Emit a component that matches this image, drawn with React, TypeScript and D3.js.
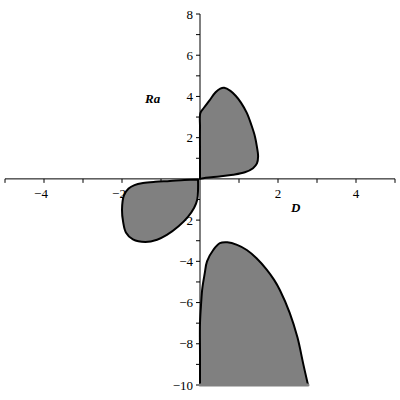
import React from "react";
import * as d3 from "d3";

// region outlines (D, Ra)
const upperLobe: [number, number][] = [
  [0, 0], [0, 1.2], [0, 2.5], [0.01, 3.2], [0.1, 3.45], [0.24, 3.8],
  [0.4, 4.2], [0.52, 4.38], [0.62, 4.42], [0.78, 4.27], [0.92, 4.02],
  [1.05, 3.7], [1.2, 3.2], [1.32, 2.6], [1.41, 2.05], [1.46, 1.55],
  [1.49, 1.1], [1.46, 0.75], [1.36, 0.52], [1.15, 0.32], [0.85, 0.2],
  [0.5, 0.12], [0.15, 0.05], [0, 0],
];

const leftLobe: [number, number][] = [
  [-0.05, -0.03], [-0.4, -0.05], [-0.77, -0.1], [-1.15, -0.14],
  [-1.46, -0.2], [-1.68, -0.3], [-1.83, -0.47], [-1.95, -0.8],
  [-2.0, -1.5], [-1.97, -2.1], [-1.9, -2.6], [-1.72, -2.94],
  [-1.4, -3.06], [-1.1, -2.95], [-0.85, -2.72], [-0.55, -2.3],
  [-0.31, -1.84], [-0.15, -1.4], [-0.07, -1.0], [-0.05, -0.5], [-0.05, -0.03],
];

const lowerLobe: [number, number][] = [
  [0, -10], [0, -8.5], [0, -7], [0.03, -6], [0.06, -5.3], [0.12, -4.6],
  [0.18, -4.0], [0.34, -3.45], [0.51, -3.12], [0.7, -3.08], [0.95, -3.2],
  [1.2, -3.45], [1.45, -3.85], [1.71, -4.4], [1.9, -4.9], [2.05, -5.4],
  [2.3, -6.5], [2.5, -7.7], [2.65, -9.0], [2.77, -10],
];

const xTicks = [-5, -4, -3, -2, -1, 1, 2, 3, 4, 5];
const xLabels = [-4, -2, 2, 4];
const yTicks = [-10, -9, -8, -7, -6, -5, -4, -3, -2, -1, 1, 2, 3, 4, 5, 6, 7, 8];
const yLabels = [-10, -8, -6, -4, -2, 2, 4, 6, 8];

const fmt = (t: number) => (t < 0 ? "\u2212" + Math.abs(t) : String(t));

const App = () => {
  const width = 400;
  const height = 400;
  const x = d3.scaleLinear().domain([-5, 5]).range([5, 395]);
  const y = d3.scaleLinear().domain([-10, 8]).range([385, 14]);

  const line = d3
    .line<[number, number]>()
    .x((d) => x(d[0]))
    .y((d) => y(d[1]))
    .curve(d3.curveCatmullRom.alpha(0.5));

  const font = "'Liberation Serif', 'Times New Roman', serif";
  const gray = "#808080";

  return (
    <svg
      width={width}
      height={height}
      style={{ position: "absolute", left: 0, top: 0, background: "#fff" }}
    >
      {/* axes */}
      <line x1={x(-5)} x2={x(5)} y1={y(0)} y2={y(0)} stroke="#000" strokeWidth={1} />
      <line x1={x(0)} x2={x(0)} y1={y(8)} y2={y(-10)} stroke="#000" strokeWidth={1} />
      {xTicks.map((t) => (
        <line key={"xt" + t} x1={x(t)} x2={x(t)} y1={y(0)} y2={y(0) + 4} stroke="#000" />
      ))}
      {yTicks.map((t) => (
        <line key={"yt" + t} x1={x(0) - 4} x2={x(0)} y1={y(t)} y2={y(t)} stroke="#000" />
      ))}
      {xLabels.map((t) => (
        <text key={"xl" + t} x={x(t) - (t < 0 ? 3 : 0)} y={y(0) + 19} textAnchor="middle" fontFamily={font} fontSize={13}>
          {fmt(t)}
        </text>
      ))}
      {yLabels.map((t) => (
        <text key={"yl" + t} x={x(0) - 7} y={y(t) + 4.5} textAnchor="end" fontFamily={font} fontSize={13}>
          {fmt(t)}
        </text>
      ))}
      <text x={145} y={103} fontFamily={font} fontSize={13} fontWeight="bold" fontStyle="italic">
        Ra
      </text>
      <text x={291} y={212} fontFamily={font} fontSize={13} fontWeight="bold" fontStyle="italic">
        D
      </text>

      {/* regions */}
      <path d={line(upperLobe) + "Z"} fill={gray} stroke="#000" strokeWidth={2} strokeLinejoin="round" />
      <path d={line(leftLobe) + "Z"} fill={gray} stroke="#000" strokeWidth={2} strokeLinejoin="round" />
      <path d={line(lowerLobe) + "Z"} fill={gray} stroke="none" />
      <path d={line(lowerLobe) || ""} fill="none" stroke="#000" strokeWidth={2} />
      <line
        x1={x(lowerLobe[0][0])}
        x2={x(lowerLobe[lowerLobe.length - 1][0])}
        y1={y(-10)}
        y2={y(-10)}
        stroke={gray}
        strokeWidth={3}
        strokeLinecap="round"
      />
    </svg>
  );
};

export default App;
